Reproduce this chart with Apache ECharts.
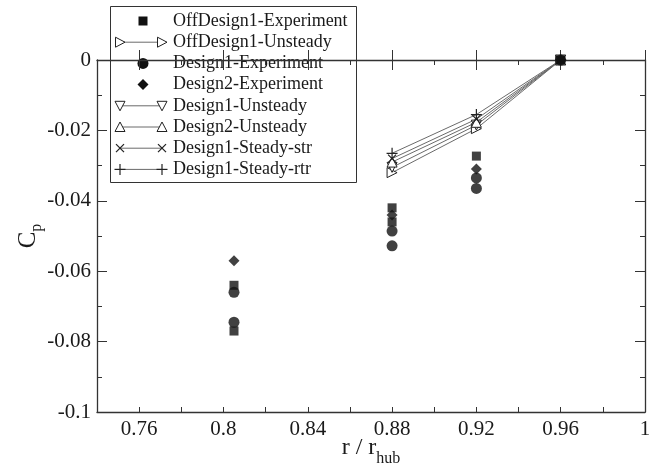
<!DOCTYPE html>
<html>
<head>
<meta charset="utf-8">
<script src="https://cdn.jsdelivr.net/npm/echarts@6/dist/echarts.min.js"></script>
<style>html,body{margin:0;padding:0;background:#fff}#c{width:650px;height:467px}</style>
</head>
<body>
<div id="c"></div>
<script>
// ---- data ----
const xMajor = [0.76, 0.8, 0.84, 0.88, 0.92, 0.96, 1];
const yTicks = [-0.1, -0.08, -0.06, -0.04, -0.02, 0];
const offDesign1Exp = [[0.805,-0.064],[0.805,-0.077],[0.88,-0.042],[0.88,-0.046],[0.92,-0.0273],[0.96,0]];
const design1Exp = [[0.805,-0.066],[0.805,-0.0745],[0.88,-0.0486],[0.88,-0.0528],[0.92,-0.0335],[0.92,-0.0365],[0.96,0]];
const design2Exp = [[0.805,-0.057],[0.88,-0.044],[0.92,-0.031],[0.96,0]];
const lineX = [0.88, 0.92, 0.96];
const offDesign1Unsteady = [-0.032, -0.0195, 0];
const design1Unsteady = [-0.0305, -0.0185, 0];
const design2Unsteady = [-0.029, -0.0177, 0];
const design1SteadyStr = [-0.028, -0.0168, 0];
const design1SteadyRtr = [-0.0265, -0.0155, 0];

const FONT = 'Liberation Serif';
const TXT = '#1a1a1a';
const AX = '#333';
const LINE = '#6a6a6a';
const CROSS = 'path://M0,0L10,10M10,0L0,10';
const PLUS = 'path://M5,0L5,10M0,5L10,5';

const entries = [
  {name:'OffDesign1-Experiment', kind:'scatter', sym:'rect', data: offDesign1Exp},
  {name:'OffDesign1-Unsteady', kind:'line', sym:'tri-r', data: offDesign1Unsteady},
  {name:'Design1-Experiment', kind:'scatter', sym:'circle', data: design1Exp},
  {name:'Design2-Experiment', kind:'scatter', sym:'diamond', data: design2Exp},
  {name:'Design1-Unsteady', kind:'line', sym:'tri-d', data: design1Unsteady},
  {name:'Design2-Unsteady', kind:'line', sym:'tri-u', data: design2Unsteady},
  {name:'Design1-Steady-str', kind:'line', sym:'cross', data: design1SteadyStr},
  {name:'Design1-Steady-rtr', kind:'line', sym:'plus', data: design1SteadyRtr}
];

function symOpts(sym){
  switch(sym){
    case 'rect': return {symbol:'rect', symbolSize:9, itemStyle:{color:'#111'}};
    case 'circle': return {symbol:'circle', symbolSize:11, itemStyle:{color:'#111'}};
    case 'diamond': return {symbol:'diamond', symbolSize:11, itemStyle:{color:'#111'}};
    case 'tri-r': return {symbol:'triangle', symbolSize:10, symbolRotate:-90, itemStyle:{color:'#fff', borderColor:'#222', borderWidth:1}};
    case 'tri-d': return {symbol:'triangle', symbolSize:10, symbolRotate:180, itemStyle:{color:'#fff', borderColor:'#222', borderWidth:1}};
    case 'tri-u': return {symbol:'triangle', symbolSize:10, itemStyle:{color:'#fff', borderColor:'#222', borderWidth:1}};
    case 'cross': return {symbol:CROSS, symbolSize:8, itemStyle:{color:'none', borderColor:'#222', borderWidth:1.2}};
    case 'plus': return {symbol:PLUS, symbolSize:11, itemStyle:{color:'none', borderColor:'#222', borderWidth:1.2}};
  }
}

const series = entries.map(e => {
  const s = Object.assign({name:e.name, type: e.kind === 'line' ? 'line' : 'scatter', z: e.kind==='line'?2:3}, symOpts(e.sym));
  if (e.kind === 'line') {
    s.data = lineX.map((x,i) => [x, e.data[i]]);
    s.showAllSymbol = true;
    s.lineStyle = {color: LINE, width: 1};
  } else {
    s.data = e.data;
  }
  return s;
});

// ---- legend drawn as graphic ----
const LX = 110.5, LY = 6.5, LW = 246, LH = 176;
const rowY0 = 21, rowStep = 21.2;
function gSym(sym, cx, cy){
  const blk = {fill:'#111'};
  const hollow = {fill:'#fff', stroke:'#222', lineWidth:1};
  switch(sym){
    case 'rect': return [{type:'rect', shape:{x:cx-4.5,y:cy-4.5,width:9,height:9}, style:blk}];
    case 'circle': return [{type:'circle', shape:{cx:cx,cy:cy,r:5.5}, style:blk}];
    case 'diamond': return [{type:'polygon', shape:{points:[[cx,cy-5.5],[cx+5.5,cy],[cx,cy+5.5],[cx-5.5,cy]]}, style:blk}];
    case 'tri-r': return [{type:'polygon', shape:{points:[[cx-4.5,cy-5],[cx+5,cy],[cx-4.5,cy+5]]}, style:hollow}];
    case 'tri-d': return [{type:'polygon', shape:{points:[[cx-5,cy-4.5],[cx+5,cy-4.5],[cx,cy+5]]}, style:hollow}];
    case 'tri-u': return [{type:'polygon', shape:{points:[[cx-5,cy+4.5],[cx+5,cy+4.5],[cx,cy-5]]}, style:hollow}];
    case 'cross': return [
      {type:'line', shape:{x1:cx-4,y1:cy-4,x2:cx+4,y2:cy+4}, style:{stroke:'#222',lineWidth:1.2}},
      {type:'line', shape:{x1:cx-4,y1:cy+4,x2:cx+4,y2:cy-4}, style:{stroke:'#222',lineWidth:1.2}}];
    case 'plus': return [
      {type:'line', shape:{x1:cx,y1:cy-5.5,x2:cx,y2:cy+5.5}, style:{stroke:'#222',lineWidth:1.2}},
      {type:'line', shape:{x1:cx-5.5,y1:cy,x2:cx+5.5,y2:cy}, style:{stroke:'#222',lineWidth:1.2}}];
  }
}
const legendEls = [{type:'rect', shape:{x:LX,y:LY,width:LW,height:LH}, style:{fill:'#fff', stroke:'#333', lineWidth:1}}];
entries.forEach((e, i) => {
  const y = rowY0 + i*rowStep;
  if (e.kind === 'line') {
    legendEls.push({type:'line', shape:{x1:120,y1:y,x2:162,y2:y}, style:{stroke:LINE, lineWidth:1}});
    legendEls.push(...gSym(e.sym, 120, y));
    legendEls.push(...gSym(e.sym, 162, y));
  } else {
    legendEls.push(...gSym(e.sym, 143, y));
  }
  legendEls.push({type:'text', x:173, y:y, style:{text:e.name, font:'18px "Liberation Serif"', fill:TXT, verticalAlign:'middle', align:'left'}});
});

const grid = {left:97, right:5, top:60, bottom:55, containLabel:false, outerBoundsMode:'none'};
const axLine = {show:true, onZero:false, lineStyle:{color:AX, width:1.3}};
const lbl = {color:TXT, fontFamily:FONT, fontSize:21};

const xAxis = [
  {type:'value', position:'bottom', min:0.74, max:1, interval:0.02,
   axisLine:axLine, axisTick:{show:true, inside:true, length:5, lineStyle:{color:AX}},
   axisLabel:Object.assign({customValues:xMajor, margin:7, formatter:v=>String(+v.toFixed(2))}, lbl),
   splitLine:{show:false},
   name:'{a|r / r}{b|hub}', nameLocation:'middle', nameGap:17, nameMoveOverlap:false,
   nameTextStyle:{rich:{a:{fontFamily:FONT, fontSize:24, color:TXT}, b:{fontFamily:FONT, fontSize:16, color:TXT, padding:[22,0,0,0]}}}},
  {type:'value', position:'bottom', min:0.74, max:1, interval:0.02, axisLine:{show:false},
   axisTick:{show:true, inside:true, length:10, customValues:xMajor, lineStyle:{color:AX}}, axisLabel:{show:false}, splitLine:{show:false}},
  {type:'value', position:'top', min:0.74, max:1, interval:0.02, axisLine:axLine,
   axisTick:{show:true, inside:true, length:5, lineStyle:{color:AX}}, axisLabel:{show:false}, splitLine:{show:false}},
  {type:'value', position:'top', min:0.74, max:1, interval:0.02, axisLine:{show:false},
   axisTick:{show:true, inside:true, length:10, customValues:xMajor, lineStyle:{color:AX}}, axisLabel:{show:false}, splitLine:{show:false}}
];
const yAxis = [
  {type:'value', position:'left', min:-0.1, max:0, interval:0.02,
   axisLine:axLine, axisTick:{show:true, inside:true, length:10, lineStyle:{color:AX}},
   minorTick:{show:true, splitNumber:2, length:5, lineStyle:{color:AX}},
   axisLabel:Object.assign({customValues:yTicks, margin:6, formatter:v=>String(+v.toFixed(2))}, lbl),
   splitLine:{show:false}, minorSplitLine:{show:false},
   name:'{a|C}{b|p}', nameLocation:'middle', nameGap:52, nameRotate:90, nameMoveOverlap:false,
   nameTextStyle:{rich:{a:{fontFamily:FONT, fontSize:25, color:TXT}, b:{fontFamily:FONT, fontSize:16, color:TXT, padding:[18,0,0,0]}}}},
  {type:'value', position:'right', min:-0.1, max:0, interval:0.02,
   axisLine:axLine, axisTick:{show:true, inside:true, length:10, lineStyle:{color:AX}},
   minorTick:{show:true, splitNumber:2, length:5, lineStyle:{color:AX}},
   axisLabel:{show:false}, splitLine:{show:false}}
];

const chart = echarts.init(document.getElementById('c'), null, {renderer:'canvas'});
chart.setOption({
  animation:false,
  backgroundColor:'#fff',
  grid: grid,
  xAxis: xAxis,
  yAxis: yAxis,
  series: series,
  graphic: {elements:[{type:'group', z:100, children: legendEls}]}
});
</script>
</body>
</html>
